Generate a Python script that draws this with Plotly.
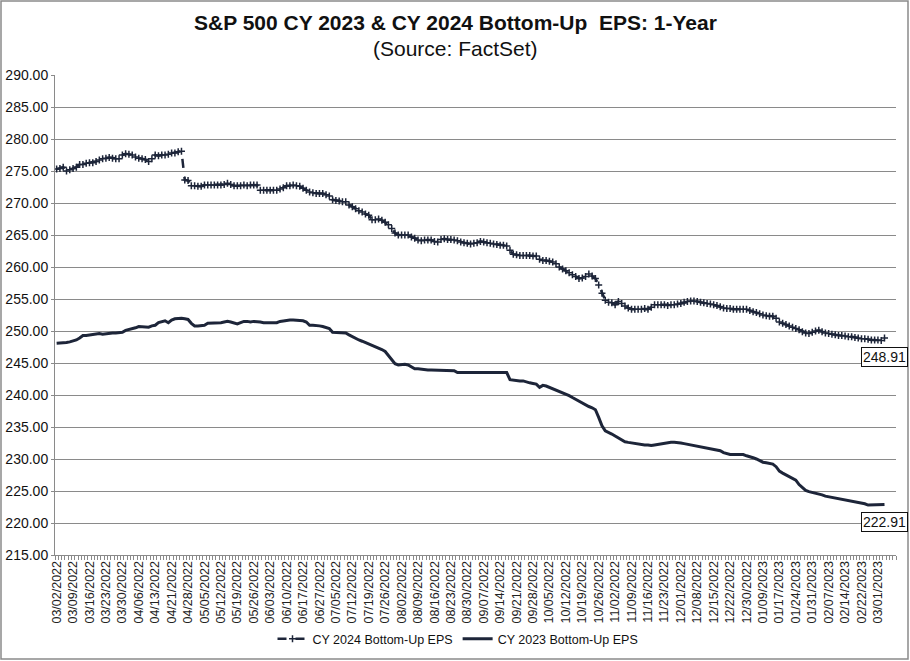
import plotly.graph_objects as go

# Tick labels (every 5th trading day)
tick_labels = [
    "03/02/2022", "03/09/2022", "03/16/2022", "03/23/2022", "03/30/2022", "04/06/2022",
    "04/13/2022", "04/21/2022", "04/28/2022", "05/05/2022", "05/12/2022", "05/19/2022",
    "05/26/2022", "06/03/2022", "06/10/2022", "06/17/2022", "06/27/2022", "07/05/2022",
    "07/12/2022", "07/19/2022", "07/26/2022", "08/02/2022", "08/09/2022", "08/16/2022",
    "08/23/2022", "08/30/2022", "09/07/2022", "09/14/2022", "09/21/2022", "09/28/2022",
    "10/05/2022", "10/12/2022", "10/19/2022", "10/26/2022", "11/02/2022", "11/09/2022",
    "11/16/2022", "11/23/2022", "12/01/2022", "12/08/2022", "12/15/2022", "12/22/2022",
    "12/30/2022", "01/09/2023", "01/17/2023", "01/24/2023", "01/31/2023", "02/07/2023",
    "02/14/2023", "02/22/2023", "03/01/2023",
]
n_slots = 256  # trading-day slots on the category axis

# CY 2024 bottom-up EPS (daily, trading days from 03/02/2022)
cy2024 = [
    275.3, 275.4, 275.6, 275.0, 275.2, 275.4, 275.6, 276.0, 276.0, 276.2,
    276.3, 276.3, 276.5, 276.7, 276.9, 277.0, 277.1, 277.0, 276.9, 276.9,
    277.5, 277.7, 277.6, 277.5, 277.2, 277.0, 276.9, 276.8, 276.5, 276.9,
    277.5, 277.4, 277.5, 277.5, 277.6, 277.8, 277.8, 278.0, 278.1, 273.6,
    273.5, 272.7, 272.7, 272.6, 272.6, 272.8, 272.8, 272.8, 272.8, 272.8,
    272.8, 272.9, 273.1, 272.9, 272.7, 272.7, 272.7, 272.8, 272.7, 272.8,
    272.8, 272.8, 272.0, 272.0, 272.0, 272.0, 272.0, 272.0, 272.2, 272.4,
    272.7, 272.7, 272.8, 272.7, 272.6, 272.3, 272.0, 271.7, 271.6, 271.5,
    271.5, 271.5, 271.3, 271.1, 270.5, 270.4, 270.3, 270.2, 270.2, 269.7,
    269.4, 269.1, 268.8, 268.6, 268.3, 268.1, 267.4, 267.4, 267.5, 267.3,
    267.0, 266.6, 266.0, 265.3, 265.0, 265.0, 265.0, 265.0, 264.7, 264.5,
    264.2, 264.1, 264.2, 264.2, 264.2, 264.0, 263.9, 264.3, 264.4, 264.3,
    264.3, 264.2, 264.1, 263.9, 263.8, 263.7, 263.6, 263.7, 263.8, 264.0,
    263.9, 263.8, 263.7, 263.6, 263.5, 263.4, 263.4, 263.3, 262.6, 262.0,
    261.9, 261.8, 261.8, 261.8, 261.8, 261.7, 261.7, 261.2, 261.0, 261.0,
    260.9, 260.8, 260.5, 260.0, 259.7, 259.4, 259.1, 258.8, 258.5, 258.2,
    258.3, 258.5, 258.9, 258.6, 258.2, 257.2, 255.9, 254.8, 254.5, 254.4,
    254.1, 254.6, 254.3, 253.9, 253.6, 253.4, 253.4, 253.4, 253.4, 253.5,
    253.4, 253.7, 254.1, 254.1, 254.1, 254.1, 254.0, 254.1, 254.1, 254.2,
    254.3, 254.5, 254.6, 254.7, 254.7, 254.6, 254.5, 254.4, 254.3, 254.2,
    254.1, 254.0, 253.8, 253.6, 253.5, 253.5, 253.4, 253.4, 253.4, 253.4,
    253.4, 253.2, 253.0, 252.9, 252.7, 252.5, 252.4, 252.3, 252.3, 252.0,
    251.4, 251.2, 251.0, 250.8, 250.6, 250.4, 250.2, 249.9, 249.7, 249.6,
    249.8, 250.0, 250.1, 249.9, 249.7, 249.6, 249.5, 249.4, 249.3, 249.3,
    249.2, 249.1, 249.1, 249.0, 248.9, 248.8, 248.8, 248.7, 248.6, 248.6,
    248.6, 248.5, 248.91,
]

# CY 2023 bottom-up EPS (daily, trading days from 03/02/2022)
cy2023 = [
    248.1, 248.1, 248.2, 248.2, 248.3, 248.4, 248.6, 248.9, 249.3, 249.3,
    249.4, 249.5, 249.6, 249.6, 249.5, 249.6, 249.7, 249.7, 249.7, 249.8,
    249.8, 250.1, 250.2, 250.3, 250.5, 250.7, 250.7, 250.6, 250.6, 250.8,
    250.9, 251.3, 251.5, 251.6, 251.3, 251.7, 251.9, 252.0, 252.0, 251.9,
    251.8, 251.2, 250.8, 250.8, 250.9, 250.9, 251.2, 251.2, 251.2, 251.3,
    251.3, 251.4, 251.5, 251.4, 251.2, 251.1, 251.3, 251.5, 251.5, 251.4,
    251.5, 251.5, 251.4, 251.3, 251.3, 251.3, 251.3, 251.3, 251.5, 251.6,
    251.7, 251.7, 251.7, 251.7, 251.6, 251.6, 251.4, 250.9, 250.9, 250.9,
    250.8, 250.7, 250.6, 250.4, 249.8, 249.8, 249.8, 249.7, 249.7, 249.4,
    249.1, 248.9, 248.6, 248.4, 248.2, 248.0, 247.7, 247.5, 247.3, 247.1,
    246.8, 246.2, 245.5, 244.9, 244.7, 244.8, 244.8, 244.7, 244.4, 244.1,
    244.1, 244.0, 244.0, 243.9, 243.9, 243.9, 243.9, 243.9, 243.9, 243.9,
    243.9, 243.8, 243.5, 243.5, 243.6, 243.6, 243.6, 243.6, 243.6, 243.6,
    243.6, 243.6, 243.5, 243.5, 243.5, 243.5, 243.5, 243.5, 242.4, 242.3,
    242.2, 242.2, 242.2, 242.0, 241.9, 241.8, 241.7, 241.2, 241.5, 241.4,
    241.2, 241.0, 240.8, 240.6, 240.4, 240.1, 239.9, 239.6, 239.3, 239.0,
    238.8, 238.5, 238.2, 238.0, 237.7, 236.5, 235.2, 234.4, 234.2, 233.9,
    233.6, 233.3, 233.0, 232.7, 232.6, 232.5, 232.4, 232.3, 232.2, 232.2,
    232.2, 232.1, 232.2, 232.3, 232.4, 232.5, 232.6, 232.6, 232.6, 232.6,
    232.5, 232.4, 232.3, 232.2, 232.0, 231.9, 231.8, 231.7, 231.6, 231.5,
    231.4, 231.3, 231.3, 231.0, 230.8, 230.7, 230.7, 230.7, 230.7, 230.7,
    230.5, 230.4, 230.2, 230.0, 229.7, 229.5, 229.4, 229.3, 229.2, 228.8,
    228.1, 227.8, 227.5, 227.2, 226.9, 226.7, 226.0, 225.5, 225.1, 224.9,
    224.8, 224.7, 224.5, 224.4, 224.2, 224.1, 224.0, 223.9, 223.9, 223.8,
    223.7, 223.6, 223.5, 223.4, 223.2, 223.1, 223.0, 222.8, 222.8, 222.8,
    222.8, 222.8, 222.91,
]

series_names = ["CY 2024 Bottom-Up EPS", "CY 2023 Bottom-Up EPS"]
title_text = "S&P 500 CY 2023 & CY 2024 Bottom-Up  EPS: 1-Year"
subtitle_text = "(Source: FactSet)"

LINE = "#1d2539"
GRID = "#8a8a8a"
FONT = "Liberation Sans, Arial, sans-serif"

W, H = 910, 661
ML, MR, MT, MB = 55, 14, 75, 106
pw, ph = W - ML - MR, H - MT - MB


def px_x(p):
    return (p - ML) / pw


def px_y(p):
    return (H - MB - p) / ph


x24 = list(range(len(cy2024)))
x23 = list(range(len(cy2023)))

fig = go.Figure()
fig.add_trace(go.Scatter(
    x=x24, y=cy2024, name=series_names[0], mode="lines+markers",
    line=dict(color=LINE, width=2.5, dash="dash"),
    marker=dict(symbol="cross-thin", size=5, line=dict(color=LINE, width=1.5), color=LINE),
))
fig.add_trace(go.Scatter(
    x=x23, y=cy2023, name=series_names[1], mode="lines",
    line=dict(color=LINE, width=3),
))

tickvals = [i * 5 for i in range(len(tick_labels))]

fig.update_layout(
    width=W, height=H,
    margin=dict(l=ML, r=MR, t=MT, b=MB, autoexpand=False),
    paper_bgcolor="white", plot_bgcolor="white",
    font=dict(family=FONT, color="#111111"),
    showlegend=True,
    legend=dict(orientation="h", x=px_x(458), xanchor="center", y=px_y(639), yanchor="middle",
                font=dict(size=12.5, family=FONT, color="#111111"),
                traceorder="normal"),
    xaxis=dict(
        range=[-0.5, n_slots - 0.5], automargin=False,
        tickmode="array", tickvals=tickvals, ticktext=tick_labels,
        tickangle=-90, tickfont=dict(size=12.5, family=FONT, color="#222222"),
        showgrid=False, zeroline=False,
        showline=True, linecolor=GRID, linewidth=1,
        ticks="", ticklen=0,
        minor=dict(tickmode="linear", tick0=-0.5, dtick=1, ticks="outside",
                   ticklen=4, tickcolor=GRID, tickwidth=1, showgrid=False),
    ),
    yaxis=dict(
        range=[215, 290], dtick=5, tick0=215, tickformat=".2f", automargin=False,
        tickfont=dict(size=14, family=FONT, color="#111111"),
        showgrid=True, gridcolor=GRID, gridwidth=1,
        zeroline=False, showline=True, linecolor=GRID, linewidth=1,
        ticks="outside", ticklen=3, tickcolor=GRID,
    ),
    annotations=[
        dict(text="<b>" + title_text + "</b>", xref="paper", yref="paper",
             x=px_x(455), y=px_y(22), xanchor="center", yanchor="middle",
             showarrow=False, font=dict(size=21, family=FONT, color="#111111")),
        dict(text=subtitle_text, xref="paper", yref="paper",
             x=px_x(455), y=px_y(48), xanchor="center", yanchor="middle",
             showarrow=False, font=dict(size=21, family=FONT, color="#111111")),
        dict(text=f"{cy2024[-1]:.2f}", x=x24[-1], y=cy2024[-1], xref="x", yref="y",
             showarrow=False, yshift=-19, xshift=0, bordercolor="#111111", borderwidth=1,
             borderpad=1, bgcolor="white", font=dict(size=14, family=FONT, color="#111111")),
        dict(text=f"{cy2023[-1]:.2f}", x=x23[-1], y=cy2023[-1], xref="x", yref="y",
             showarrow=False, yshift=-18, xshift=0, bordercolor="#111111", borderwidth=1,
             borderpad=1, bgcolor="white", font=dict(size=14, family=FONT, color="#111111")),
    ],
    shapes=[
        dict(type="rect", xref="paper", yref="paper",
             x0=px_x(1), x1=px_x(908), y0=px_y(659), y1=px_y(1),
             line=dict(color="#8a8a8a", width=1.5), fillcolor="rgba(0,0,0,0)", layer="below"),
    ],
)

fig.write_html("out.html", config={"displayModeBar": False},
               post_script="document.body.style.margin='0';document.body.style.overflow='hidden';")
